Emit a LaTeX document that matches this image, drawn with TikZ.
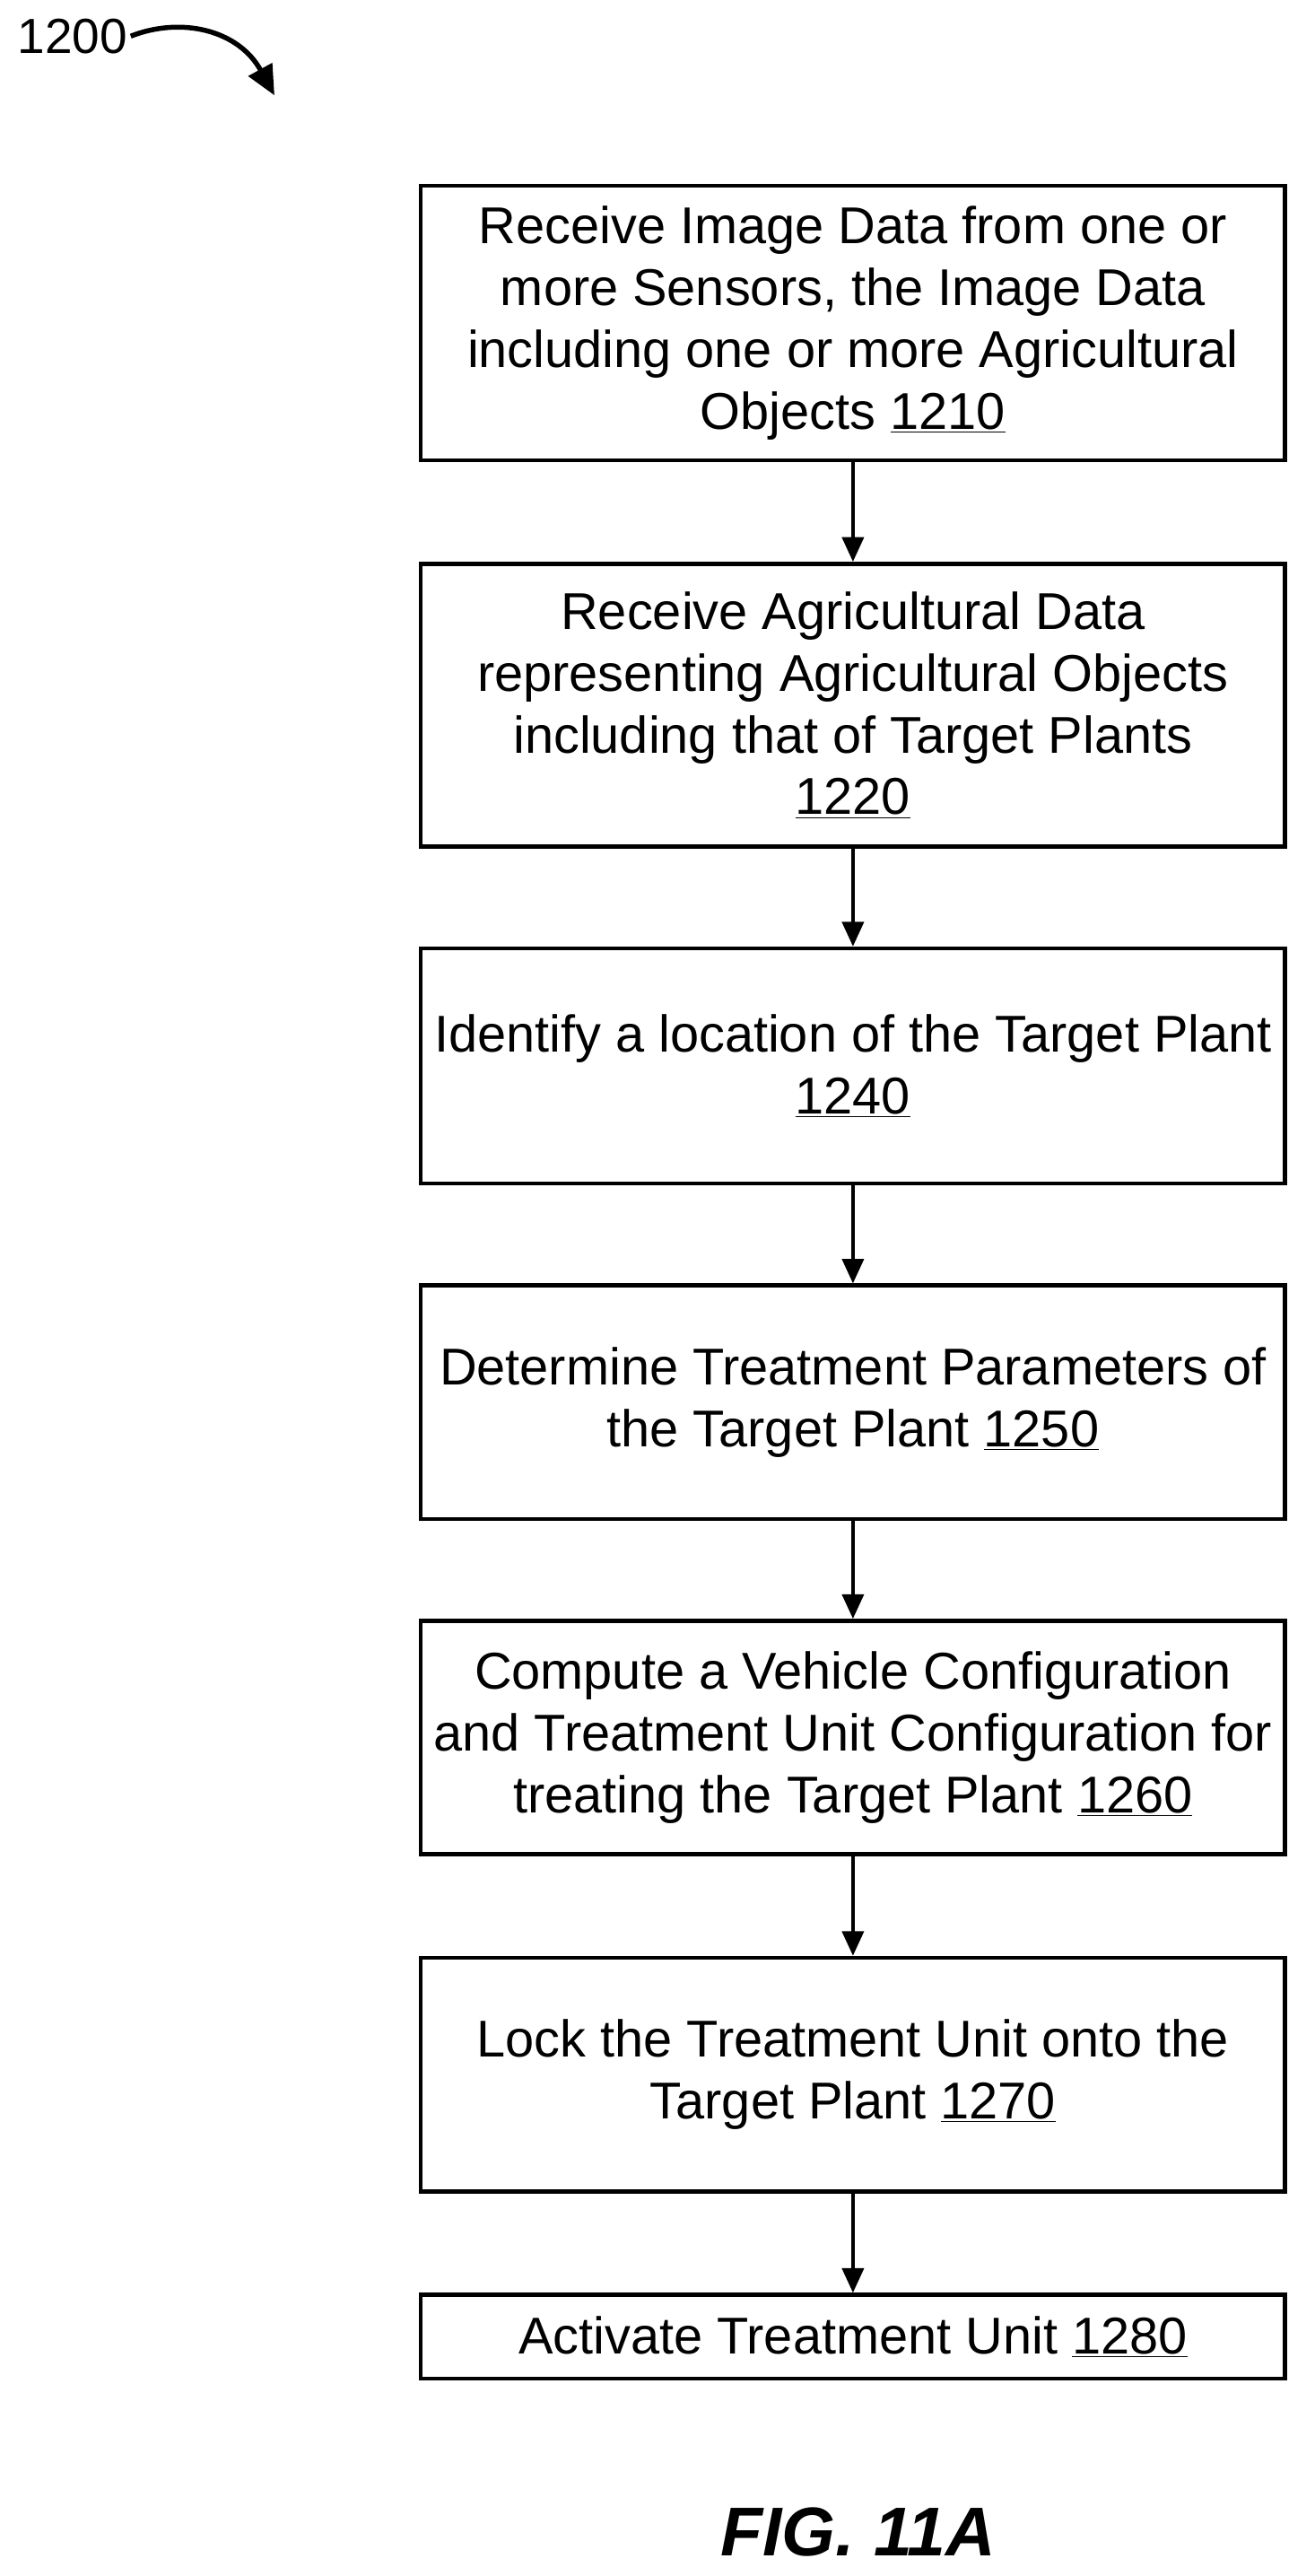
\documentclass[tikz,border=0pt]{standalone}
\usepackage{fontspec}
\setmainfont{Liberation Sans}
\usetikzlibrary{arrows.meta}
\begin{document}
\begin{tikzpicture}[x=1pt,y=-1pt,
  box/.style={draw,line width=2.5pt,align=center,font=\fontsize{31.5}{37.5}\selectfont,inner sep=0pt},
  arr/.style={line width=2.5pt,-{Triangle[length=15pt,width=13pt]}}]
\useasboundingbox (0,0) rectangle (800,1567);
\node[box,minimum width=526pt,minimum height=167pt] (b1) at (519,196.5) {Receive Image Data from one or\\more Sensors, the Image Data\\including one or more Agricultural\\Objects \underline{1210}};
\node[box,minimum width=526pt,minimum height=172pt] (b2) at (519,429) {Receive Agricultural Data\\representing Agricultural Objects\\including that of Target Plants\\\underline{1220}};
\node[box,minimum width=526pt,minimum height=143pt] (b3) at (519,648.5) {Identify a location of the Target Plant\\\underline{1240}};
\node[box,minimum width=526pt,minimum height=142pt] (b4) at (519,853) {Determine Treatment Parameters of\\the Target Plant \underline{1250}};
\node[box,minimum width=526pt,minimum height=142pt] (b5) at (519,1057) {Compute a Vehicle Configuration\\and Treatment Unit Configuration for\\treating the Target Plant \underline{1260}};
\node[box,minimum width=526pt,minimum height=142pt] (b6) at (519,1262) {Lock the Treatment Unit onto the\\Target Plant \underline{1270}};
\node[box,minimum width=526pt,minimum height=51pt] (b7) at (519,1421.5) {Activate Treatment Unit \underline{1280}};
\foreach \a/\b in {b1/b2,b2/b3,b3/b4,b4/b5,b5/b6,b6/b7}
  \draw[arr] (\a.south) -- (\b.north);
\node[font=\fontsize{42}{42}\selectfont\bfseries\itshape] (fig) at (522,1540) {FIG. 11A};
\node[font=\fontsize{30}{30}\selectfont,inner sep=2pt] (lbl) at (44,22) {1200};
\coordinate (tip) at (167,58);
\draw[line width=3pt,-{Triangle[length=18pt,width=16pt]}] (lbl.east) .. controls (110,10) and (145,18) .. (tip);
\end{tikzpicture}
\end{document}
